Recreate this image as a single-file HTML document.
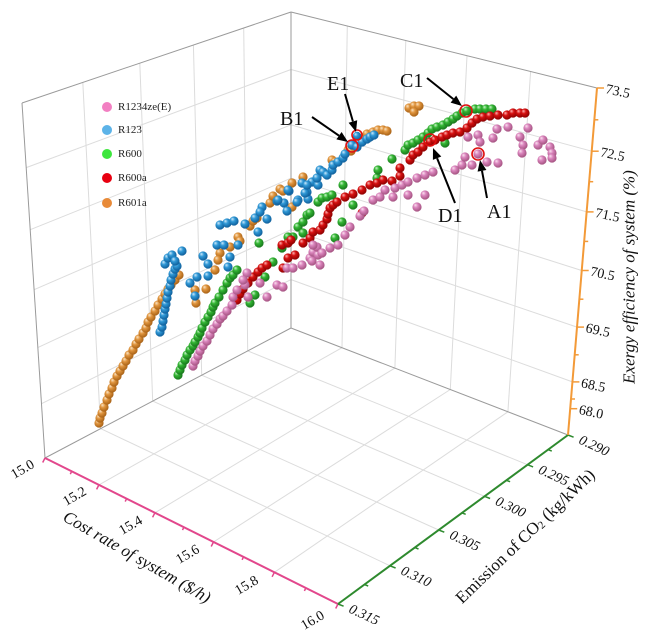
<!DOCTYPE html>
<html><head><meta charset="utf-8"><style>
html,body{margin:0;padding:0;background:#fff;}
svg{display:block;font-family:"Liberation Serif","Times New Roman",serif;}
</style></head><body>
<svg width="657" height="634" viewBox="0 0 657 634" xmlns="http://www.w3.org/2000/svg">
<defs>
<radialGradient id="gO" cx="0.42" cy="0.4" r="0.62" fx="0.32" fy="0.28"><stop offset="0" stop-color="#fbe4c4"/><stop offset="0.4" stop-color="#e0953e"/><stop offset="1" stop-color="#a65f14"/></radialGradient>
<radialGradient id="gB" cx="0.42" cy="0.4" r="0.62" fx="0.32" fy="0.28"><stop offset="0" stop-color="#cfeafb"/><stop offset="0.4" stop-color="#2f98d6"/><stop offset="1" stop-color="#0d5c98"/></radialGradient>
<radialGradient id="gG" cx="0.42" cy="0.4" r="0.62" fx="0.32" fy="0.28"><stop offset="0" stop-color="#cdf6cd"/><stop offset="0.4" stop-color="#34b634"/><stop offset="1" stop-color="#16731a"/></radialGradient>
<radialGradient id="gR" cx="0.42" cy="0.4" r="0.62" fx="0.32" fy="0.28"><stop offset="0" stop-color="#ffb4b4"/><stop offset="0.4" stop-color="#d61010"/><stop offset="1" stop-color="#8a0000"/></radialGradient>
<radialGradient id="gP" cx="0.42" cy="0.4" r="0.62" fx="0.32" fy="0.28"><stop offset="0" stop-color="#fbe2f0"/><stop offset="0.4" stop-color="#da85bd"/><stop offset="1" stop-color="#a2507e"/></radialGradient>
</defs>
<rect width="657" height="634" fill="#fff"/>

<!-- grid lines -->
<g stroke="#dcdcdc" stroke-width="1" fill="none">
<line x1="247.7" y1="350.9" x2="243.7" y2="28"/>
<line x1="201.7" y1="375.2" x2="193.4" y2="45"/>
<line x1="152.7" y1="401.1" x2="139.8" y2="63.1"/>
<line x1="100.6" y1="428.6" x2="82.8" y2="82.4"/>
<line x1="41.5" y1="403.7" x2="291" y2="279.6"/>
<line x1="37.8" y1="347.6" x2="291" y2="229.7"/>
<line x1="34.1" y1="289.7" x2="291" y2="178.2"/>
<line x1="30.2" y1="229.7" x2="291" y2="124.8"/>
<line x1="26.2" y1="167.6" x2="291" y2="69.5"/>
<line x1="291" y1="279.6" x2="572.4" y2="381.9"/>
<line x1="291" y1="229.7" x2="577" y2="327.1"/>
<line x1="291" y1="178.2" x2="581.7" y2="270.5"/>
<line x1="291" y1="124.8" x2="586.6" y2="211.9"/>
<line x1="291" y1="69.5" x2="591.7" y2="151.2"/>
<line x1="342" y1="347.7" x2="347.3" y2="26"/>
<line x1="394.9" y1="368.1" x2="405.8" y2="40.5"/>
<line x1="450.3" y1="389.5" x2="467" y2="55.7"/>
<line x1="507.9" y1="411.8" x2="530.6" y2="71.5"/>
<line x1="342" y1="347.7" x2="98.9" y2="484.9"/>
<line x1="394.9" y1="368.1" x2="154.9" y2="512.8"/>
<line x1="450.3" y1="389.5" x2="213.5" y2="542"/>
<line x1="507.9" y1="411.8" x2="274.4" y2="572.3"/>
<line x1="247.7" y1="350.9" x2="527.5" y2="464.7"/>
<line x1="201.7" y1="375.2" x2="484.5" y2="496.3"/>
<line x1="152.7" y1="401.1" x2="438.7" y2="530"/>
<line x1="100.6" y1="428.6" x2="390" y2="565.8"/>
</g>

<!-- box edges -->
<g stroke="#9a9a9a" stroke-width="1" fill="none">
<line x1="22" y1="103" x2="291" y2="12"/>
<line x1="291" y1="12" x2="597" y2="88"/>
<line x1="291" y1="328" x2="291" y2="12"/>
<line x1="45" y1="458" x2="22" y2="103"/>
<line x1="291" y1="328" x2="45" y2="458"/>
<line x1="291" y1="328" x2="568" y2="435"/>
</g>

<!-- axes -->
<line x1="45" y1="458" x2="338" y2="604" stroke="#e2478c" stroke-width="2"/>
<g stroke="#e2478c" stroke-width="1.5">
<line x1="45" y1="458" x2="42.7" y2="462.5"/>
<line x1="71.7" y1="471.3" x2="70.3" y2="474.2"/>
<line x1="98.9" y1="484.9" x2="96.6" y2="489.4"/>
<line x1="126.6" y1="498.7" x2="125.2" y2="501.6"/>
<line x1="154.9" y1="512.8" x2="152.6" y2="517.3"/>
<line x1="183.9" y1="527.2" x2="182.5" y2="530.1"/>
<line x1="213.5" y1="542" x2="211.2" y2="546.5"/>
<line x1="243.5" y1="556.9" x2="242.1" y2="559.8"/>
<line x1="274.4" y1="572.3" x2="272.1" y2="576.8"/>
<line x1="305.8" y1="588" x2="304.4" y2="590.9"/>
<line x1="338" y1="604" x2="335.7" y2="608.5"/>
</g>
<line x1="568" y1="435" x2="338" y2="604" stroke="#2e8a2e" stroke-width="2"/>
<g stroke="#2e8a2e" stroke-width="1.5">
<line x1="568" y1="435" x2="573.6" y2="437.2"/>
<line x1="548.1" y1="449.7" x2="551.8" y2="451.1"/>
<line x1="527.5" y1="464.7" x2="533.1" y2="466.9"/>
<line x1="506.4" y1="480.3" x2="510.1" y2="481.7"/>
<line x1="484.5" y1="496.3" x2="490.1" y2="498.5"/>
<line x1="462" y1="512.9" x2="465.7" y2="514.3"/>
<line x1="438.7" y1="530" x2="444.3" y2="532.2"/>
<line x1="414.8" y1="547.6" x2="418.5" y2="549"/>
<line x1="390" y1="565.8" x2="395.6" y2="568"/>
<line x1="364.5" y1="584.6" x2="368.2" y2="586"/>
<line x1="338" y1="604" x2="343.6" y2="606.2"/>
</g>
<line x1="568" y1="435" x2="597" y2="88" stroke="#f39a38" stroke-width="2"/>
<g stroke="#f39a38" stroke-width="1.5">
<line x1="597" y1="88" x2="604" y2="88"/>
<line x1="594.3" y1="119.8" x2="598.3" y2="119.8"/>
<line x1="591.7" y1="151.2" x2="598.7" y2="151.2"/>
<line x1="589.2" y1="181.7" x2="593.2" y2="181.7"/>
<line x1="586.6" y1="211.9" x2="593.6" y2="211.9"/>
<line x1="584.2" y1="241.4" x2="588.2" y2="241.4"/>
<line x1="581.7" y1="270.5" x2="588.7" y2="270.5"/>
<line x1="579.4" y1="299.2" x2="583.4" y2="299.2"/>
<line x1="577" y1="327.1" x2="584" y2="327.1"/>
<line x1="574.7" y1="354.8" x2="578.7" y2="354.8"/>
<line x1="572.4" y1="381.9" x2="579.4" y2="381.9"/>
<line x1="571" y1="399" x2="575" y2="399"/>
<line x1="570.2" y1="408.7" x2="577.2" y2="408.7"/>
</g>

<!-- tick labels -->
<g font-size="14" fill="#111">
<text transform="translate(605,93) rotate(12)">73.5</text>
<text transform="translate(599.7,156.2) rotate(12)">72.5</text>
<text transform="translate(594.6,216.9) rotate(12)">71.5</text>
<text transform="translate(589.7,275.5) rotate(12)">70.5</text>
<text transform="translate(585,332) rotate(12)">69.5</text>
<text transform="translate(580.4,387) rotate(12)">68.5</text>
<text transform="translate(578.2,413.7) rotate(12)">68.0</text>
</g>
<g font-size="14" fill="#111" font-style="italic">
<text transform="translate(578,443) rotate(25)">0.290</text>
<text transform="translate(537.5,472.7) rotate(25)">0.295</text>
<text transform="translate(494.5,504.3) rotate(25)">0.300</text>
<text transform="translate(448.7,538) rotate(25)">0.305</text>
<text transform="translate(400,573.8) rotate(25)">0.310</text>
<text transform="translate(348,612) rotate(25)">0.315</text>
</g>
<g font-size="14" fill="#111" text-anchor="middle" dominant-baseline="central">
<text transform="translate(23,470) rotate(-30)">15.0</text>
<text transform="translate(75,497) rotate(-30)">15.2</text>
<text transform="translate(131,526) rotate(-30)">15.4</text>
<text transform="translate(188,555) rotate(-30)">15.6</text>
<text transform="translate(247,586) rotate(-30)">15.8</text>
<text transform="translate(313,621) rotate(-30)">16.0</text>
</g>

<!-- axis titles -->
<g font-size="17" fill="#111" text-anchor="middle" dominant-baseline="central">
<text font-style="italic" transform="translate(137,557) rotate(30)">Cost rate of system ($/h)</text>
<text transform="translate(525,536) rotate(-44)">Emission of CO<tspan font-size="11" dy="4">2</tspan><tspan dy="-4"> (kg/kWh)</tspan></text>
<text font-style="italic" transform="translate(629,277) rotate(-90)">Exergy efficiency of system (%)</text>
</g>

<!-- R601a orange -->
<g fill="url(#gO)">
<circle cx="99" cy="423" r="4.6"/><circle cx="100" cy="418" r="4.6"/><circle cx="102" cy="413" r="4.6"/><circle cx="104" cy="407" r="4.6"/><circle cx="107" cy="400" r="4.6"/><circle cx="109" cy="394" r="4.6"/><circle cx="112" cy="388" r="4.6"/><circle cx="114" cy="382" r="4.6"/><circle cx="117" cy="376" r="4.6"/><circle cx="120" cy="371" r="4.6"/><circle cx="123" cy="366" r="4.6"/><circle cx="126" cy="361" r="4.6"/><circle cx="129" cy="355" r="4.6"/><circle cx="133" cy="350" r="4.6"/><circle cx="136" cy="344" r="4.6"/><circle cx="139" cy="339" r="4.6"/><circle cx="143" cy="333" r="4.6"/><circle cx="146" cy="328" r="4.6"/><circle cx="148" cy="322" r="4.6"/><circle cx="151" cy="317" r="4.6"/><circle cx="155" cy="311" r="4.6"/><circle cx="158" cy="305" r="4.6"/><circle cx="162" cy="299" r="4.6"/><circle cx="165" cy="294" r="4.6"/><circle cx="168" cy="289" r="4.6"/><circle cx="171" cy="285" r="4.6"/><circle cx="175" cy="280" r="4.6"/><circle cx="179" cy="275" r="4.6"/>
<circle cx="195" cy="290" r="4.6"/><circle cx="196" cy="303" r="4.6"/><circle cx="206" cy="289" r="4.6"/><circle cx="215" cy="270" r="4.6"/><circle cx="220" cy="253" r="4.6"/><circle cx="218" cy="260" r="4.6"/><circle cx="230" cy="247" r="4.6"/><circle cx="238" cy="237" r="4.6"/><circle cx="240" cy="241" r="4.6"/><circle cx="250" cy="226" r="4.6"/><circle cx="253" cy="221" r="4.6"/><circle cx="257" cy="218" r="4.6"/><circle cx="270" cy="203" r="4.6"/><circle cx="273" cy="196" r="4.6"/><circle cx="280" cy="189" r="4.6"/><circle cx="283" cy="191" r="4.6"/><circle cx="292" cy="183" r="4.6"/><circle cx="292" cy="207" r="4.6"/><circle cx="303" cy="177" r="4.6"/><circle cx="332" cy="160" r="4.6"/><circle cx="335" cy="162" r="4.6"/><circle cx="348" cy="150" r="4.6"/><circle cx="351" cy="151" r="4.6"/><circle cx="362" cy="138" r="4.6"/><circle cx="367" cy="134" r="4.6"/><circle cx="373" cy="132" r="4.6"/><circle cx="378" cy="130" r="4.6"/><circle cx="383" cy="130" r="4.6"/><circle cx="387" cy="131" r="4.6"/>
<circle cx="409" cy="108" r="4.6"/><circle cx="414" cy="106" r="4.6"/><circle cx="419" cy="106" r="4.6"/><circle cx="414" cy="112" r="4.6"/>
</g>

<!-- R123 blue -->
<g fill="url(#gB)">
<circle cx="160" cy="332" r="4.6"/><circle cx="162" cy="327" r="4.6"/><circle cx="163" cy="321" r="4.6"/><circle cx="164" cy="315" r="4.6"/><circle cx="165" cy="309" r="4.6"/><circle cx="166" cy="304" r="4.6"/><circle cx="167" cy="298" r="4.6"/><circle cx="168" cy="292" r="4.6"/><circle cx="170" cy="286" r="4.6"/><circle cx="171" cy="280" r="4.6"/><circle cx="173" cy="274" r="4.6"/><circle cx="175" cy="269" r="4.6"/><circle cx="177" cy="266" r="4.6"/>
<circle cx="165" cy="264" r="4.6"/><circle cx="168" cy="258" r="4.6"/><circle cx="172" cy="255" r="4.6"/><circle cx="175" cy="261" r="4.6"/><circle cx="182" cy="251" r="4.6"/>
<circle cx="190" cy="283" r="4.6"/><circle cx="197" cy="277" r="4.6"/><circle cx="208" cy="276" r="4.6"/><circle cx="195" cy="296" r="4.6"/><circle cx="203" cy="256" r="4.6"/><circle cx="208" cy="264" r="4.6"/><circle cx="217" cy="245" r="4.6"/><circle cx="224" cy="245" r="4.6"/><circle cx="230" cy="257" r="4.6"/><circle cx="228" cy="267" r="4.6"/><circle cx="220" cy="225" r="4.6"/><circle cx="227" cy="223" r="4.6"/><circle cx="234" cy="221" r="4.6"/><circle cx="245" cy="224" r="4.6"/><circle cx="258" cy="232" r="4.6"/><circle cx="238" cy="245" r="4.6"/>
<circle cx="255" cy="218" r="4.6"/><circle cx="262" cy="207" r="4.6"/><circle cx="260" cy="212" r="4.6"/><circle cx="267" cy="219" r="4.6"/><circle cx="277" cy="201" r="4.6"/><circle cx="284" cy="203" r="4.6"/><circle cx="287" cy="211" r="4.6"/><circle cx="289" cy="191" r="4.6"/><circle cx="298" cy="200" r="4.6"/><circle cx="308" cy="199" r="4.6"/><circle cx="307" cy="192" r="4.6"/><circle cx="302" cy="183" r="4.6"/><circle cx="312" cy="182" r="4.6"/><circle cx="318" cy="185" r="4.6"/><circle cx="278" cy="200" r="4.6"/><circle cx="288" cy="190" r="4.6"/><circle cx="297" cy="202" r="4.6"/><circle cx="305" cy="193" r="4.6"/><circle cx="307" cy="185" r="4.6"/><circle cx="317" cy="178" r="4.6"/><circle cx="320" cy="170" r="4.6"/><circle cx="323" cy="172" r="4.6"/><circle cx="327" cy="175" r="4.6"/><circle cx="332" cy="170" r="4.6"/><circle cx="333" cy="165" r="4.6"/><circle cx="338" cy="162" r="4.6"/><circle cx="343" cy="158" r="4.6"/><circle cx="345" cy="154" r="4.6"/><circle cx="352" cy="145" r="4.6"/><circle cx="357" cy="147" r="4.6"/><circle cx="362" cy="142" r="4.6"/><circle cx="367" cy="139" r="4.6"/><circle cx="370" cy="137" r="4.6"/><circle cx="374" cy="135" r="4.6"/><circle cx="357" cy="136" r="4.2"/>
</g>

<!-- R600 green -->
<g fill="url(#gG)">
<circle cx="178" cy="375" r="4.6"/><circle cx="180" cy="370" r="4.6"/><circle cx="182" cy="365" r="4.6"/><circle cx="185" cy="360" r="4.6"/><circle cx="187" cy="355" r="4.6"/><circle cx="190" cy="350" r="4.6"/><circle cx="193" cy="346" r="4.6"/><circle cx="195" cy="342" r="4.6"/><circle cx="198" cy="337" r="4.6"/><circle cx="200" cy="333" r="4.6"/><circle cx="202" cy="328" r="4.6"/><circle cx="205" cy="322" r="4.6"/><circle cx="208" cy="317" r="4.6"/><circle cx="211" cy="312" r="4.6"/><circle cx="213" cy="307" r="4.6"/><circle cx="215" cy="303" r="4.6"/><circle cx="219" cy="297" r="4.6"/><circle cx="223" cy="290" r="4.6"/><circle cx="227" cy="283" r="4.6"/><circle cx="230" cy="278" r="4.6"/><circle cx="233" cy="275" r="4.6"/><circle cx="237" cy="270" r="4.6"/>
<circle cx="259" cy="243" r="4.6"/><circle cx="273" cy="262" r="4.6"/><circle cx="265" cy="277" r="4.6"/><circle cx="255" cy="295" r="4.6"/><circle cx="250" cy="303" r="4.6"/><circle cx="282" cy="248" r="4.6"/><circle cx="293" cy="237" r="4.6"/><circle cx="298" cy="227" r="4.6"/><circle cx="303" cy="222" r="4.6"/><circle cx="307" cy="215" r="4.6"/><circle cx="310" cy="213" r="4.6"/><circle cx="303" cy="233" r="4.6"/><circle cx="288" cy="237" r="4.6"/><circle cx="318" cy="202" r="4.6"/><circle cx="322" cy="198" r="4.6"/><circle cx="327" cy="197" r="4.6"/><circle cx="332" cy="195" r="4.6"/><circle cx="343" cy="185" r="4.6"/><circle cx="353" cy="205" r="4.6"/><circle cx="342" cy="222" r="4.6"/><circle cx="335" cy="238" r="4.6"/><circle cx="377" cy="178" r="4.6"/><circle cx="378" cy="170" r="4.6"/><circle cx="392" cy="159" r="4.6"/>
<circle cx="405" cy="150" r="4.6"/><circle cx="408" cy="145" r="4.6"/><circle cx="413" cy="143" r="4.6"/><circle cx="418" cy="140" r="4.6"/><circle cx="423" cy="137" r="4.6"/><circle cx="428" cy="133" r="4.6"/><circle cx="432" cy="129" r="4.6"/><circle cx="437" cy="127" r="4.6"/><circle cx="443" cy="125" r="4.6"/><circle cx="448" cy="122" r="4.6"/><circle cx="453" cy="119" r="4.6"/><circle cx="457" cy="116" r="4.6"/><circle cx="462" cy="113" r="4.6"/><circle cx="467" cy="111" r="4.6"/><circle cx="475" cy="109" r="4.6"/><circle cx="480" cy="109" r="4.6"/><circle cx="486" cy="109" r="4.6"/><circle cx="492" cy="109" r="4.6"/><circle cx="445" cy="143" r="4.6"/>
</g>

<!-- R600a red -->
<g fill="url(#gR)">
<circle cx="237" cy="300" r="4.6"/><circle cx="240" cy="294" r="4.6"/><circle cx="243" cy="289" r="4.6"/><circle cx="248" cy="283" r="4.6"/><circle cx="253" cy="277" r="4.6"/><circle cx="258" cy="272" r="4.6"/><circle cx="262" cy="268" r="4.6"/><circle cx="267" cy="265" r="4.6"/><circle cx="283" cy="268" r="4.6"/><circle cx="288" cy="258" r="4.6"/><circle cx="295" cy="255" r="4.6"/><circle cx="282" cy="245" r="4.6"/><circle cx="288" cy="243" r="4.6"/><circle cx="291" cy="240" r="4.6"/><circle cx="303" cy="243" r="4.6"/><circle cx="310" cy="238" r="4.6"/><circle cx="313" cy="232" r="4.6"/><circle cx="320" cy="230" r="4.6"/>
<circle cx="323" cy="225" r="4.6"/><circle cx="327" cy="219" r="4.6"/><circle cx="328" cy="214" r="4.6"/><circle cx="330" cy="208" r="4.6"/><circle cx="333" cy="205" r="4.6"/><circle cx="337" cy="202" r="4.6"/><circle cx="345" cy="197" r="4.6"/><circle cx="353" cy="194" r="4.6"/><circle cx="362" cy="190" r="4.6"/><circle cx="370" cy="185" r="4.6"/><circle cx="377" cy="183" r="4.6"/><circle cx="383" cy="180" r="4.6"/><circle cx="392" cy="181" r="4.6"/><circle cx="400" cy="176" r="4.6"/><circle cx="400" cy="168" r="4.6"/><circle cx="362" cy="213" r="4.6"/>
<circle cx="410" cy="160" r="4.6"/><circle cx="413" cy="155" r="4.6"/><circle cx="418" cy="152" r="4.6"/><circle cx="423" cy="147" r="4.6"/><circle cx="430" cy="142" r="4.6"/><circle cx="435" cy="140" r="4.6"/><circle cx="442" cy="137" r="4.6"/><circle cx="447" cy="135" r="4.6"/><circle cx="453" cy="133" r="4.6"/><circle cx="460" cy="132" r="4.6"/><circle cx="467" cy="128" r="4.6"/><circle cx="472" cy="123" r="4.6"/><circle cx="477" cy="119" r="4.6"/><circle cx="483" cy="117" r="4.6"/><circle cx="490" cy="116" r="4.6"/><circle cx="498" cy="115" r="4.6"/><circle cx="507" cy="115" r="4.6"/><circle cx="513" cy="113" r="4.6"/><circle cx="520" cy="113" r="4.6"/><circle cx="525" cy="113" r="4.6"/>
</g>

<!-- R1234ze(E) pink -->
<g fill="url(#gP)">
<circle cx="193" cy="366" r="4.6"/><circle cx="195" cy="361" r="4.6"/><circle cx="198" cy="356" r="4.6"/><circle cx="200" cy="351" r="4.6"/><circle cx="203" cy="346" r="4.6"/><circle cx="207" cy="341" r="4.6"/><circle cx="210" cy="335" r="4.6"/><circle cx="213" cy="329" r="4.6"/><circle cx="217" cy="324" r="4.6"/><circle cx="220" cy="319" r="4.6"/><circle cx="223" cy="316" r="4.6"/><circle cx="227" cy="311" r="4.6"/><circle cx="232" cy="305" r="4.6"/><circle cx="233" cy="297" r="4.6"/><circle cx="237" cy="290" r="4.6"/>
<circle cx="245" cy="285" r="4.6"/><circle cx="247" cy="273" r="4.6"/><circle cx="260" cy="283" r="4.6"/><circle cx="248" cy="297" r="4.6"/><circle cx="267" cy="297" r="4.6"/><circle cx="277" cy="285" r="4.6"/><circle cx="283" cy="287" r="4.6"/><circle cx="287" cy="268" r="4.6"/><circle cx="293" cy="268" r="4.6"/><circle cx="310" cy="258" r="4.6"/><circle cx="313" cy="252" r="4.6"/><circle cx="318" cy="255" r="4.6"/><circle cx="243" cy="280" r="4.6"/><circle cx="302" cy="265" r="4.6"/><circle cx="312" cy="261" r="4.6"/><circle cx="320" cy="265" r="4.6"/><circle cx="317" cy="247" r="4.6"/><circle cx="313" cy="245" r="4.6"/><circle cx="322" cy="253" r="4.6"/><circle cx="330" cy="248" r="4.6"/><circle cx="338" cy="245" r="4.6"/><circle cx="345" cy="235" r="4.6"/><circle cx="350" cy="227" r="4.6"/><circle cx="360" cy="216" r="4.6"/><circle cx="364" cy="211" r="4.6"/>
<circle cx="373" cy="200" r="4.6"/><circle cx="380" cy="197" r="4.6"/><circle cx="385" cy="190" r="4.6"/><circle cx="393" cy="197" r="4.6"/><circle cx="395" cy="188" r="4.6"/><circle cx="402" cy="185" r="4.6"/><circle cx="408" cy="182" r="4.6"/><circle cx="417" cy="178" r="4.6"/><circle cx="425" cy="175" r="4.6"/><circle cx="433" cy="172" r="4.6"/><circle cx="408" cy="195" r="4.6"/><circle cx="425" cy="195" r="4.6"/><circle cx="417" cy="207" r="4.6"/>
<circle cx="455" cy="170" r="4.6"/><circle cx="462" cy="165" r="4.6"/><circle cx="472" cy="165" r="4.6"/><circle cx="465" cy="157" r="4.6"/><circle cx="468" cy="137" r="4.6"/><circle cx="478" cy="135" r="4.6"/><circle cx="480" cy="142" r="4.6"/><circle cx="478" cy="154" r="4.6"/><circle cx="487" cy="162" r="4.6"/><circle cx="498" cy="163" r="4.6"/><circle cx="493" cy="138" r="4.6"/><circle cx="497" cy="129" r="4.6"/><circle cx="508" cy="127" r="4.6"/><circle cx="520" cy="137" r="4.6"/><circle cx="528" cy="128" r="4.6"/><circle cx="523" cy="145" r="4.6"/><circle cx="522" cy="153" r="4.6"/><circle cx="538" cy="145" r="4.6"/><circle cx="543" cy="140" r="4.6"/><circle cx="550" cy="147" r="4.6"/><circle cx="552" cy="153" r="4.6"/><circle cx="552" cy="158" r="4.6"/><circle cx="542" cy="160" r="4.6"/>
</g>

<!-- annotation circles -->
<g fill="none" stroke="#e01010" stroke-width="1.6">
<circle cx="357" cy="135" r="5"/>
<circle cx="352" cy="146" r="6"/>
<circle cx="466" cy="111" r="6"/>
<circle cx="430" cy="140" r="6"/>
<circle cx="478" cy="154" r="6"/>
</g>

<!-- arrows -->
<g stroke="#000" stroke-width="2" fill="none">
<line x1="345" y1="94" x2="352.9" y2="121.4"/>
<line x1="312" y1="117" x2="339" y2="135.7"/>
<line x1="427" y1="78" x2="453.4" y2="99.1"/>
<line x1="455" y1="203" x2="437.1" y2="158.2"/>
<line x1="487" y1="198" x2="482" y2="170.8"/>
</g>
<g fill="#000">
<polygon points="356,132 348.6,122.7 357.2,120.2"/>
<polygon points="348,142 336.4,139.4 341.6,132"/>
<polygon points="462,106 450.6,102.6 456.2,95.6"/>
<polygon points="433,148 441.3,156.5 432.9,159.9"/>
<polygon points="480,160 486.4,170 477.6,171.6"/>
</g>
<g font-size="20" fill="#111">
<text x="327" y="90">E1</text>
<text x="280" y="125">B1</text>
<text x="400" y="87">C1</text>
<text x="438" y="222">D1</text>
<text x="487" y="218">A1</text>
</g>

<!-- legend -->
<g>
<circle cx="107" cy="107" r="5" fill="#f27fc2"/>
<circle cx="107" cy="130" r="5" fill="#5cb3e8"/>
<circle cx="107" cy="154" r="5" fill="#3de63d"/>
<circle cx="107" cy="178" r="5" fill="#e80010"/>
<circle cx="107" cy="203" r="5" fill="#e88a38"/>
</g>
<g font-size="11" fill="#222" dominant-baseline="central">
<text x="118" y="107">R1234ze(E)</text>
<text x="118" y="130">R123</text>
<text x="118" y="154">R600</text>
<text x="118" y="178">R600a</text>
<text x="118" y="203">R601a</text>
</g>
</svg>
</body></html>
